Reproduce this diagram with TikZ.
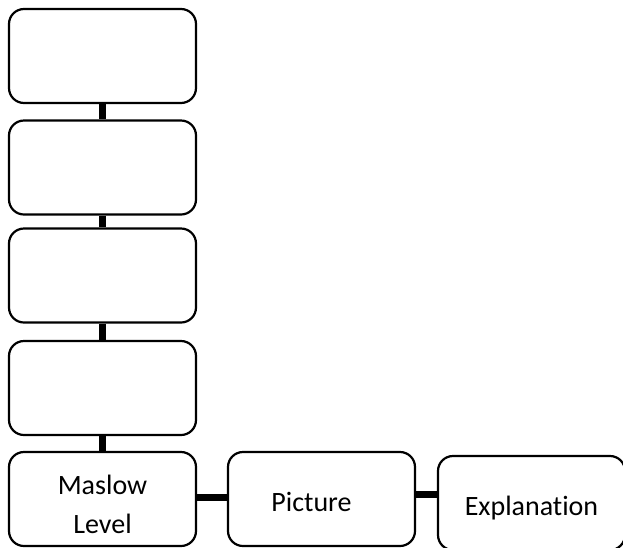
\documentclass[tikz,border=0pt]{standalone}
\usepackage{fontspec}
\setmainfont{Carlito}[Ligatures=NoCommon]
\usepackage{tikz}
\usetikzlibrary{calc}

\begin{document}
\begin{tikzpicture}[x=1pt, y=-1pt,
  lvl/.style={draw, rounded corners=15pt, line width=2.2pt, minimum width=187pt, minimum height=94pt,
    inner sep=0pt, align=center, text depth=0pt, font=\fontsize{28}{39}\selectfont},
  link/.style={line width=7pt}]
\useasboundingbox (0,0) rectangle (623,547);
\clip (0,0) rectangle (623,547);

\node[lvl] (L1) at (102.5,56) {};
\node[lvl] (L2) at (102.5,167.5) {};
\node[lvl] (L3) at (102.5,275.5) {};
\node[lvl] (L4) at (102.5,388) {};
\node[lvl, text height=69pt] (L5) at (102.5,499) {Maslow\\Level};

\node[lvl, text height=24pt] (pic) at (321.5,499) {Picture\kern20pt};
\node[lvl, text height=24pt] (expl) at (531.5,503) {Explanation};

\draw[link] (L1.south) -- (L2.north);
\draw[link] (L2.south) -- (L3.north);
\draw[link] (L3.south) -- (L4.north);
\draw[link] (L4.south) -- (L5.north);

\draw[link] ($(L5.east)+(0,-2)$) -- ($(pic.west)+(0,-2)$);
\draw[link] ($(pic.east)+(0,-5)$) -- ($(pic.east)+(23,-5)$);

\end{tikzpicture}
\end{document}
